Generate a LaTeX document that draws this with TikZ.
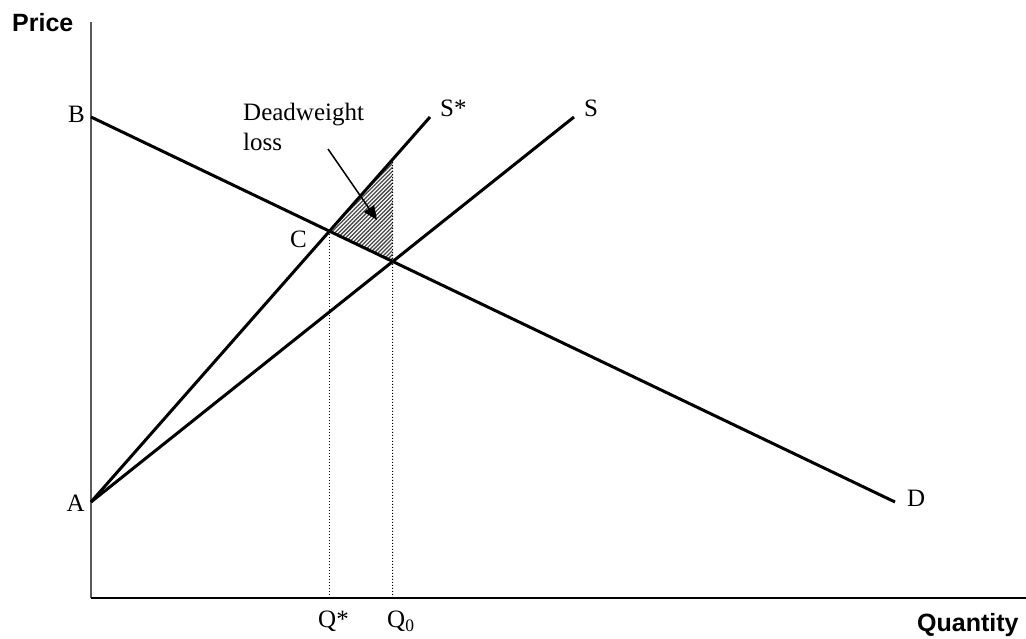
\documentclass[tikz,border=0pt]{standalone}
\usepackage{fontspec}
\setmainfont{Liberation Serif}
\newfontfamily\axisfont{Liberation Sans}
\usetikzlibrary{arrows.meta,patterns.meta}

\begin{document}
\begin{tikzpicture}[x=1pt,y=1pt,
  curve/.style={line width=3pt},
  guide/.style={dotted,line width=1pt},
  lab/.style={font=\fontsize{25}{30}\selectfont,inner sep=0pt},
  axlab/.style={font=\axisfont\bfseries\fontsize{25}{30}\selectfont,inner sep=0pt}]
\useasboundingbox (-91,-41) rectangle (935,598);
% points of the diagram
\coordinate (O) at (0,0);
\coordinate (ytop) at (0,576);
\coordinate (xend) at (935,0);
\coordinate (A) at (0,96);
\coordinate (B) at (0,481);
\coordinate (Dend) at (804,96);
\coordinate (Sstar) at (339,481);
\coordinate (Send) at (483,481);
\coordinate (C) at (intersection of A--Sstar and B--Dend);
\coordinate (E) at (intersection of A--Send and B--Dend);
\coordinate (Qs) at (C |- O);
\coordinate (Q0) at (E |- O);
\coordinate (F) at (intersection of A--Sstar and E--Q0);
% deadweight triangle
\fill[pattern={Lines[angle=45,distance=2.8pt,line width=1.3pt]},pattern color=gray!55!black] (C) -- (F) -- (E) -- cycle;
% axes
\draw[line width=1.2pt,gray!70!black] (O) -- (ytop);
\draw[line width=1.2pt] (O) -- (xend);
\draw[guide] (Qs) -- (C);
\draw[guide] (Q0) -- (F);
% demand and supply
\draw[curve] (B) -- (Dend);
\draw[curve] (A) -- (Sstar);
\draw[curve] (A) -- (Send);
% labels
\node[axlab,anchor=base west] (price) at (-79,566) {Price};
\node[axlab,anchor=base west] (qty) at (826,-34) {Quantity};
\node[lab,anchor=base east] (labA) at (-6,86) {A};
\node[lab,anchor=base east] (labB) at (-6,475) {B};
\node[lab,anchor=base east] (labC) at (216,350) {C};
\node[lab,anchor=base west] (labD) at (816,91) {D};
\node[lab,anchor=base west] (labSs) at (349,481) {S*};
\node[lab,anchor=base west] (labS) at (493,481) {S};
\node[lab,anchor=base west] (labQs) at (227,-30) {Q*};
\node[lab,anchor=base west] (labQ0) at (296,-30) {Q\textsubscript{0}};
\node[lab,anchor=north west,align=left] (dwl) at (152,495) {Deadweight\\loss};
% pointer to the triangle
\coordinate (dwlfrom) at (237,449);
\coordinate (dwlto) at (286,378);
\draw[line width=1.5pt,-{Triangle[length=14pt,width=12pt]}] (dwlfrom) -- (dwlto);
\end{tikzpicture}
\end{document}
